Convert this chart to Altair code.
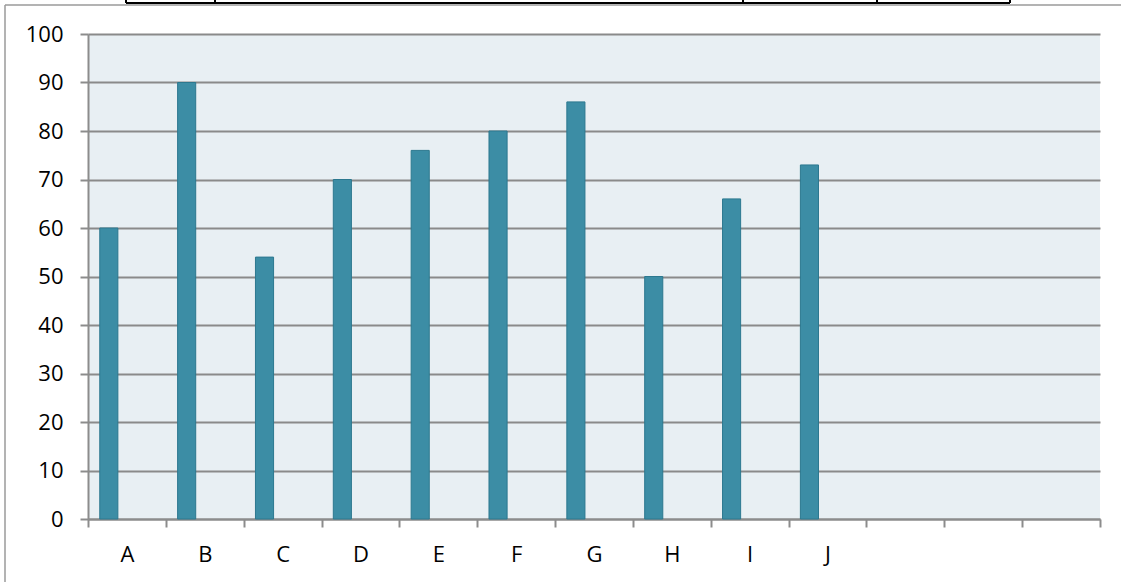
import altair as alt
import pandas as pd

categories = ["A", "B", "C", "D", "E", "F", "G", "H", "I", "J"]
values = [60, 90, 54, 70, 76, 80, 86, 50, 66, 73]
empty_slots = [" ", "  ", "   "]
series_slots = ["s1", "s2", "s3"]
y_ticks = [0, 10, 20, 30, 40, 50, 60, 70, 80, 90, 100]

slots = categories + empty_slots
df = pd.DataFrame({"cat": categories, "val": values, "series": ["s1"] * len(categories)})

W, H = 1012, 485
PAD_L, PAD_T = 88, 34

bars = alt.Chart(df).mark_bar(
    color="#3C8DA5", stroke="#2C788F", strokeWidth=1
).encode(
    x=alt.X("cat:N", scale=alt.Scale(domain=slots, paddingInner=0, paddingOuter=0),
            sort=slots,
            axis=alt.Axis(title=None, tickBand="extent", labelAngle=0, grid=False,
                          domainColor="#8c8c8c", domainWidth=2, tickColor="#8c8c8c",
                          tickWidth=2, tickSize=8, labelPadding=17, labelFontSize=22,
                          labelFont="Open Sans", labelColor="#000000")),
    xOffset=alt.XOffset("series:N", scale=alt.Scale(domain=series_slots, paddingOuter=0.65, paddingInner=0)),
    y=alt.Y("val:Q", scale=alt.Scale(domain=[0, 100], nice=False),
            axis=alt.Axis(title=None, values=y_ticks, grid=True, gridColor="#8a8a8a",
                          gridWidth=2, domainColor="#8c8c8c", domainWidth=2,
                          tickColor="#8c8c8c", tickWidth=2, tickSize=8, labelPadding=17,
                          labelFontSize=22, labelFont="Open Sans", labelColor="#000000")),
)

one = pd.DataFrame({"k": [0]})
# chart outer border (decoration)
border_left = alt.Chart(one).mark_rule(color="#9a9a9a", strokeWidth=1.5).encode(
    x=alt.value(5 - PAD_L), y=alt.value(5 - PAD_T), y2=alt.value(600))
border_top = alt.Chart(one).mark_rule(color="#9a9a9a", strokeWidth=1.5).encode(
    y=alt.value(5 - PAD_T), x=alt.value(5 - PAD_L), x2=alt.value(1130))

# partial table at the top (decoration)
table_x = [126, 215, 743, 877, 1010]
table_h = alt.Chart(one).mark_rule(color="#000000", strokeWidth=2).encode(
    y=alt.value(3 - PAD_T), x=alt.value(table_x[0] - PAD_L), x2=alt.value(table_x[-1] - PAD_L))
table_v = [
    alt.Chart(one).mark_rule(color="#000000", strokeWidth=2).encode(
        x=alt.value(tx - PAD_L), y=alt.value(-PAD_T - 2), y2=alt.value(3 - PAD_T))
    for tx in table_x
]

chart = alt.layer(bars, border_left, border_top, table_h, *table_v).properties(
    width=W, height=H,
    autosize=alt.AutoSizeParams(type="none"),
    padding={"left": PAD_L, "top": PAD_T, "right": 1121 - PAD_L - W, "bottom": 582 - PAD_T - H},
    background="white",
).configure_view(fill="#E8EFF3", stroke=None)

chart.save("out.html", embed_options={"renderer": "svg", "actions": False})
